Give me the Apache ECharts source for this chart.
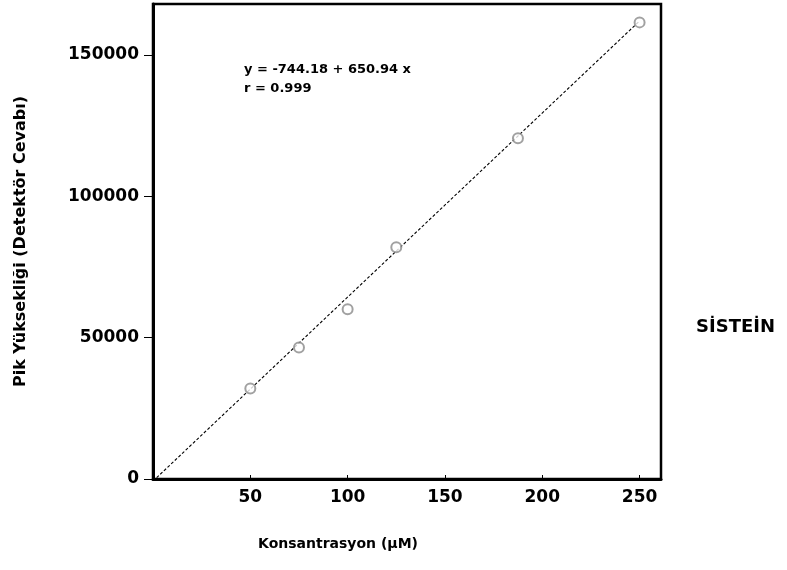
<!DOCTYPE html>
<html>
<head>
<meta charset="utf-8">
<script src="https://cdn.jsdelivr.net/npm/echarts@6/dist/echarts.min.js"></script>
<style>
html,body{margin:0;padding:0;background:#fff;}
#chart{width:787px;height:570px;}
</style>
</head>
<body>
<div id="chart"></div>
<script>
// ---- data ----
const xTickValues = [50, 100, 150, 200, 250];
const yTickValues = [0, 50000, 100000, 150000];
const concentration = [50, 75, 100, 125, 187.5, 250];          // µM
const peakHeight = [32000, 46500, 60000, 82000, 120500, 161500]; // detector response
const fitX = [0, 250];
const fitY = [-744.18, 161990.82];
const equationLines = ['y = -744.18 + 650.94 x', 'r = 0.999'];
const xTitle = 'Konsantrasyon (µM)';
const yTitle = 'Pik Yüksekliği (Detektör Cevabı)';
const sideLabel = 'SİSTEİN';

const FONT = '"DejaVu Sans", "Liberation Sans", sans-serif';

const chart = echarts.init(document.getElementById('chart'), null, {renderer: 'canvas'});

const option = {
  backgroundColor: '#ffffff',
  animation: false,
  grid: {
    left: 153, right: 126, top: 4, bottom: 91,
    show: true, borderColor: '#000', borderWidth: 2.5,
    backgroundColor: 'transparent'
  },
  xAxis: {
    type: 'value',
    min: 0, max: 261,
    name: xTitle,
    nameLocation: 'middle',
    nameGap: 58,
    nameTextStyle: {fontFamily: FONT, fontWeight: 'bold', fontSize: 14, color: '#000', padding: [0, 138, 0, 0]},
    axisLine: {show: true, lineStyle: {color: '#000', width: 3}},
    axisTick: {show: true, inside: true, length: 4, customValues: xTickValues, lineStyle: {color: '#000', width: 1}},
    axisLabel: {customValues: xTickValues, margin: 10, fontFamily: FONT, fontWeight: 'bold', fontSize: 17, color: '#000'},
    splitLine: {show: false}
  },
  yAxis: {
    type: 'value',
    min: 0, max: 168000,
    name: yTitle,
    nameLocation: 'middle',
    nameGap: 124,
    nameTextStyle: {fontFamily: FONT, fontWeight: 'bold', fontSize: 16, color: '#000'},
    axisLine: {show: true, lineStyle: {color: '#000', width: 3}},
    axisTick: {show: true, inside: false, length: 9, customValues: yTickValues, lineStyle: {color: '#000', width: 1}},
    axisLabel: {customValues: yTickValues, margin: 14, fontFamily: FONT, fontWeight: 'bold', fontSize: 17, color: '#000',
      formatter: v => String(v)},
    splitLine: {show: false}
  },
  series: [
    {
      type: 'line',
      data: fitX.map((x, i) => [x, fitY[i]]),
      showSymbol: false,
      clip: true,
      lineStyle: {color: '#000', width: 1.1, type: [3, 2]},
      z: 2
    },
    {
      type: 'scatter',
      data: concentration.map((x, i) => [x, peakHeight[i]]),
      symbol: 'emptyCircle',
      symbolSize: 10,
      itemStyle: {color: '#8a8a8a', borderWidth: 1.3},
      z: 3
    }
  ],
  graphic: [
    {type: 'text', left: 244, top: 63, style: {text: equationLines[0], fontFamily: FONT, fontWeight: 'bold', fontSize: 13, fill: '#000'}},
    {type: 'text', left: 244, top: 82, style: {text: equationLines[1], fontFamily: FONT, fontWeight: 'bold', fontSize: 13, fill: '#000'}},
    {type: 'text', left: 696, top: 318, style: {text: sideLabel, fontFamily: FONT, fontWeight: 'bold', fontSize: 18, fill: '#000'}}
  ]
};
chart.setOption(option);
</script>
</body>
</html>
